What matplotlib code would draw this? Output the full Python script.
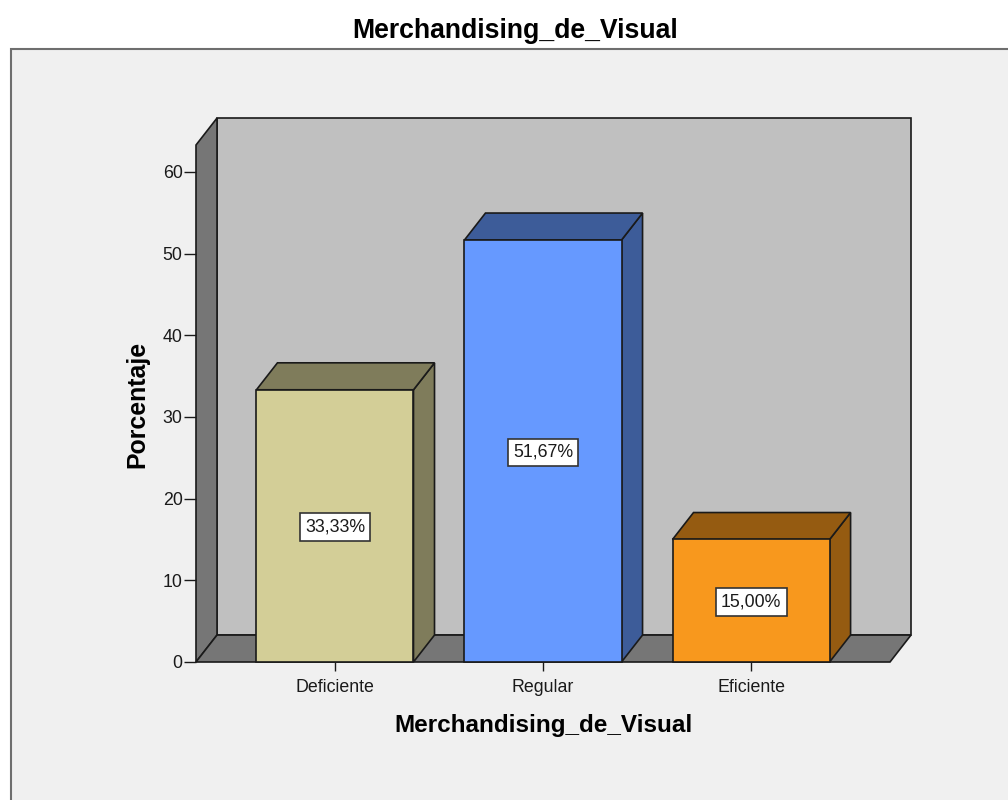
import matplotlib
matplotlib.use('Agg')
import matplotlib.pyplot as plt
from matplotlib.patches import Polygon, Rectangle

categories = ["Deficiente", "Regular", "Eficiente"]
values = [33.33, 51.67, 15.00]
labels = ["33,33%", "51,67%", "15,00%"]
front_colors = ["#d3ce97", "#6699ff", "#f8981d"]
top_colors = ["#7f7c5b", "#3d5c99", "#955b11"]
side_colors = ["#7f7c5b", "#3d5c99", "#955b11"]
y_ticks = [0, 10, 20, 30, 40, 50, 60]

W, H = 1008, 800
bar_w = 0.755
# depth of the 3d effect, in data units
dx = 0.101
dy = 3.3
x0, x1 = -0.668, 2.668
y1 = 63.3

plt.rcParams['font.family'] = ['Liberation Sans', 'DejaVu Sans']
fig = plt.figure(figsize=(W / 100, H / 100), dpi=100, facecolor='white')

# grey panel with dark frame, kept behind the axes
fig.add_artist(Rectangle((10.5 / W, -0.01), 1.1, 1 - 48.5 / H + 0.01, transform=fig.transFigure,
                         facecolor='#f0f0f0', edgecolor='#6e6e6e', linewidth=1.5, zorder=-1))
fig.text(515.5 / W, 1 - 30.5 / H, "Merchandising_de_Visual", ha='center', va='center',
         fontsize=19.2, fontweight='bold', color='black')

ax = fig.add_axes([196 / W, 1 - 662 / H, 694 / W, 517 / H])
ax.set_xlim(x0, x1)
ax.set_ylim(0, y1)
ax.patch.set_visible(False)
for s in ax.spines.values():
    s.set_visible(False)


def poly(pts, fc, z=1):
    ax.add_patch(Polygon(pts, closed=True, facecolor=fc, edgecolor='#1a1a1a',
                         linewidth=1.2, clip_on=False, zorder=z, joinstyle='miter'))


# back wall, left wall and floor
poly([(x0 + dx, dy), (x1 + dx, dy), (x1 + dx, y1 + dy), (x0 + dx, y1 + dy)], '#c0c0c0')
poly([(x0, 0), (x0 + dx, dy), (x0 + dx, y1 + dy), (x0, y1)], '#767676')
poly([(x0, 0), (x1, 0), (x1 + dx, dy), (x0 + dx, dy)], '#767676')

for i in range(len(categories)):
    v = values[i]
    l = i - bar_w / 2
    r = i + bar_w / 2
    poly([(r, 0), (r + dx, dy), (r + dx, v + dy), (r, v)], side_colors[i], 3)
    poly([(l, v), (r, v), (r + dx, v + dy), (l + dx, v + dy)], top_colors[i], 3)
    poly([(l, 0), (r, 0), (r, v), (l, v)], front_colors[i], 4)
    ax.annotate(labels[i], (i, v / 2), xytext=(0, -1), textcoords='offset points',
                ha='center', va='center', fontsize=12.8, color='#1a1a1a', zorder=6,
                bbox=dict(boxstyle='square,pad=0.3', facecolor='white', edgecolor='#333333', linewidth=1.2))

ax.set_xticks(range(len(categories)))
ax.set_xticklabels(categories, fontsize=12.8, color='#1a1a1a')
ax.set_yticks(y_ticks)
ax.tick_params(axis='x', length=6.5, width=1, pad=5.5, color='#1a1a1a')
ax.tick_params(axis='y', length=8.6, width=1, labelsize=12.8, pad=1, color='#1a1a1a', labelcolor='#1a1a1a')
ax.set_xlabel("Merchandising_de_Visual", fontsize=17.5, fontweight='bold', labelpad=13)
fig.text(137 / W, 1 - 404.5 / H, "Porcentaje", rotation=90, ha='center', va='center',
         fontsize=17.9, fontweight='bold')

fig.savefig("out.png", dpi=100, facecolor=fig.get_facecolor())
